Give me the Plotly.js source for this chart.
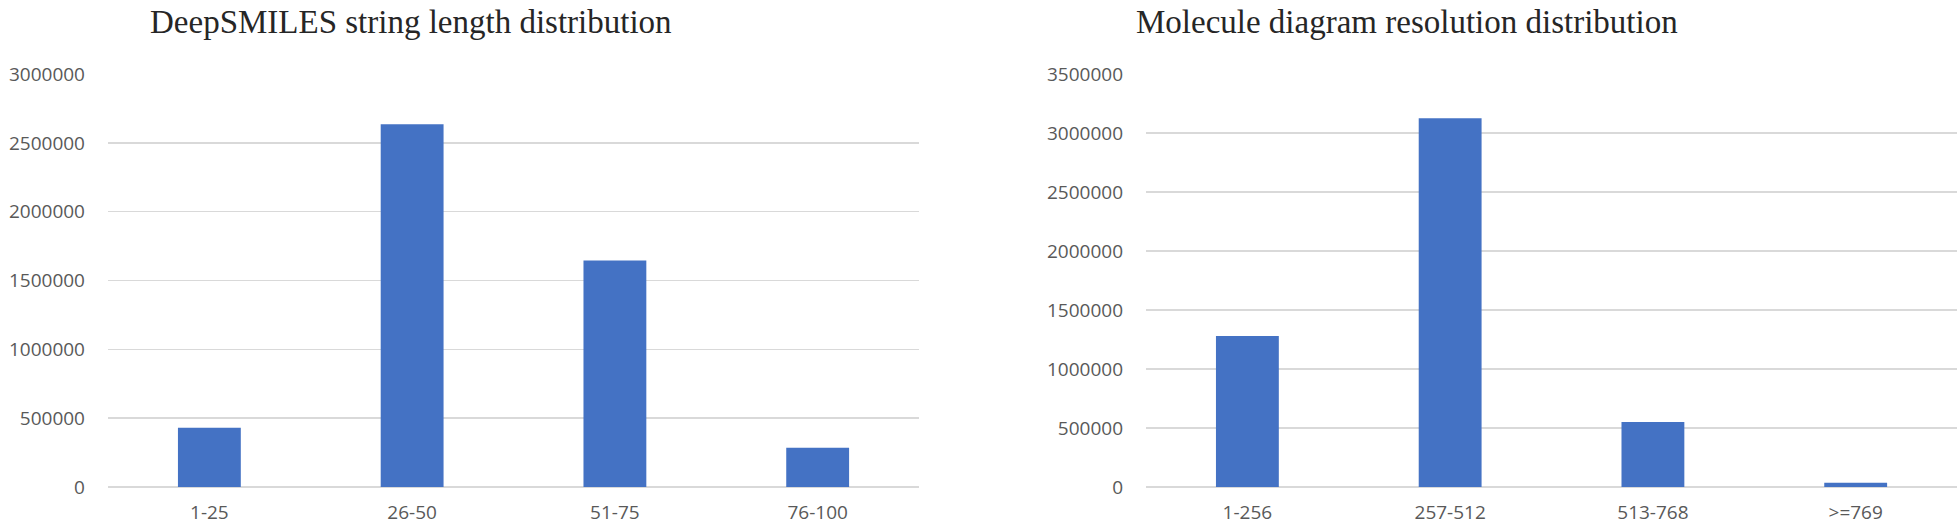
<!DOCTYPE html>
<html>
<head>
<meta charset="utf-8">
<script src="https://cdn.plot.ly/plotly-3.0.1.min.js"></script>
<style>
  html, body { margin: 0; padding: 0; background: #fff; }
  #chart { width: 1960px; height: 529px; }
</style>
</head>
<body>
<div id="chart"></div>
<script>
// DeepSMILES string length distribution
const lengthBins = ['1-25', '26-50', '51-75', '76-100'];
const lengthCounts = [430000, 2635000, 1645000, 285000];

// Molecule diagram resolution distribution
const resolutionBins = ['1-256', '257-512', '513-768', '>=769'];
const resolutionCounts = [1280000, 3125000, 550000, 35000];

const barColor = '#4472C4';
const gridColor = '#d9d9d9';
const tickFont = { family: 'Open Sans, sans-serif', size: 19, color: '#595959' };
const titleFont = { family: 'Liberation Serif, serif', size: 33, color: '#262626' };

function makeYAxis(maxVal, anchor) {
    return {
        range: [0, maxVal],
        dtick: 500000,
        tickformat: 'd',
        showgrid: true,
        gridcolor: gridColor,
        gridwidth: 1.5,
        zeroline: true,
        zerolinecolor: gridColor,
        zerolinewidth: 1.5,
        showline: false,
        ticks: '',
        ticklabelstandoff: 22,
        tickfont: tickFont,
        domain: [0.0794, 0.860],
        anchor: anchor,
        fixedrange: true
    };
}

function makeXAxis(domain, anchor) {
    return {
        domain: domain,
        anchor: anchor,
        showgrid: false,
        zeroline: false,
        showline: false,
        ticks: '',
        ticklabelstandoff: 12,
        tickfont: tickFont,
        fixedrange: true
    };
}

const traces = [
    {
        x: lengthBins,
        y: lengthCounts,
        type: 'bar',
        marker: { color: barColor },
        xaxis: 'x',
        yaxis: 'y',
        hoverinfo: 'none'
    },
    {
        x: resolutionBins,
        y: resolutionCounts,
        type: 'bar',
        marker: { color: barColor },
        xaxis: 'x2',
        yaxis: 'y2',
        hoverinfo: 'none'
    }
];

const layout = {
    width: 1960,
    height: 529,
    margin: { l: 0, r: 0, t: 0, b: 0 },
    paper_bgcolor: '#ffffff',
    plot_bgcolor: '#ffffff',
    showlegend: false,
    bargap: 0.69,
    xaxis: makeXAxis([0.0551, 0.4689], 'y'),
    yaxis: makeYAxis(3000000, 'x'),
    xaxis2: makeXAxis([0.5847, 0.9985], 'y2'),
    yaxis2: makeYAxis(3500000, 'x2'),
    annotations: [
        {
            text: 'DeepSMILES string length distribution',
            xref: 'paper', yref: 'paper',
            x: 411 / 1960, y: 1 - 22 / 529,
            xanchor: 'center', yanchor: 'middle',
            showarrow: false,
            font: titleFont
        },
        {
            text: 'Molecule diagram resolution distribution',
            xref: 'paper', yref: 'paper',
            x: 1407 / 1960, y: 1 - 22 / 529,
            xanchor: 'center', yanchor: 'middle',
            showarrow: false,
            font: titleFont
        }
    ]
};

Plotly.newPlot('chart', traces, layout, { displayModeBar: false, staticPlot: true });
</script>
</body>
</html>
